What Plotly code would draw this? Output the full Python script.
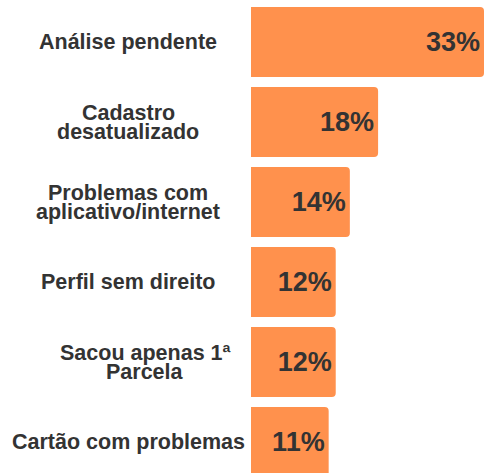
import plotly.graph_objects as go

categories = [
    ["Análise pendente"],
    ["Cadastro", "desatualizado"],
    ["Problemas com", "aplicativo/internet"],
    ["Perfil sem direito"],
    ["Sacou apenas 1ª", "Parcela"],
    ["Cartão com problemas"],
]
values = [33, 18, 14, 12, 12, 11]
positions = list(range(len(values)))

BAR_COLOR = "#FF914D"
TEXT_COLOR = "#333333"
FONT = "Liberation Sans, Arial, sans-serif"

# horizontal pixel centre of each label block (style only)
label_centres = [128, 128, 128, 128, 145, 128]

fig = go.Figure(
    go.Bar(
        x=values,
        y=positions,
        orientation="h",
        marker=dict(color=BAR_COLOR, line=dict(width=0)),
        width=0.875,
        text=[f"{v}%" for v in values],
        textposition="inside",
        insidetextanchor="end",
        textfont=dict(family=FONT, size=27, color=TEXT_COLOR, weight="bold"),
        constraintext="none",
        hoverinfo="skip",
    )
)

annotations = []
line_gap = 19
for pos, lines, cx in zip(positions, categories, label_centres):
    n = len(lines)
    for k, line in enumerate(lines):
        shift = ((n - 1) / 2 - k) * line_gap
        annotations.append(
            dict(
                text=line,
                x=(cx - 251) / 233,
                xref="paper",
                y=pos,
                yref="y",
                yshift=shift,
                xanchor="center",
                yanchor="middle",
                showarrow=False,
                font=dict(family=FONT, size=21.5, color=TEXT_COLOR, weight="bold"),
            )
        )

fig.update_layout(
    width=484,
    height=473,
    margin=dict(l=251, r=0, t=2, b=0),
    paper_bgcolor="white",
    plot_bgcolor="white",
    showlegend=False,
    barcornerradius=4,
    annotations=annotations,
    xaxis=dict(range=[0, 33], visible=False, fixedrange=True),
    yaxis=dict(range=[5.3875, -0.5], visible=False, fixedrange=True),
)

fig.write_html(
    "out.html",
    config=dict(displayModeBar=False),
    post_script="document.body.style.margin='0';document.body.style.overflow='hidden';",
)
